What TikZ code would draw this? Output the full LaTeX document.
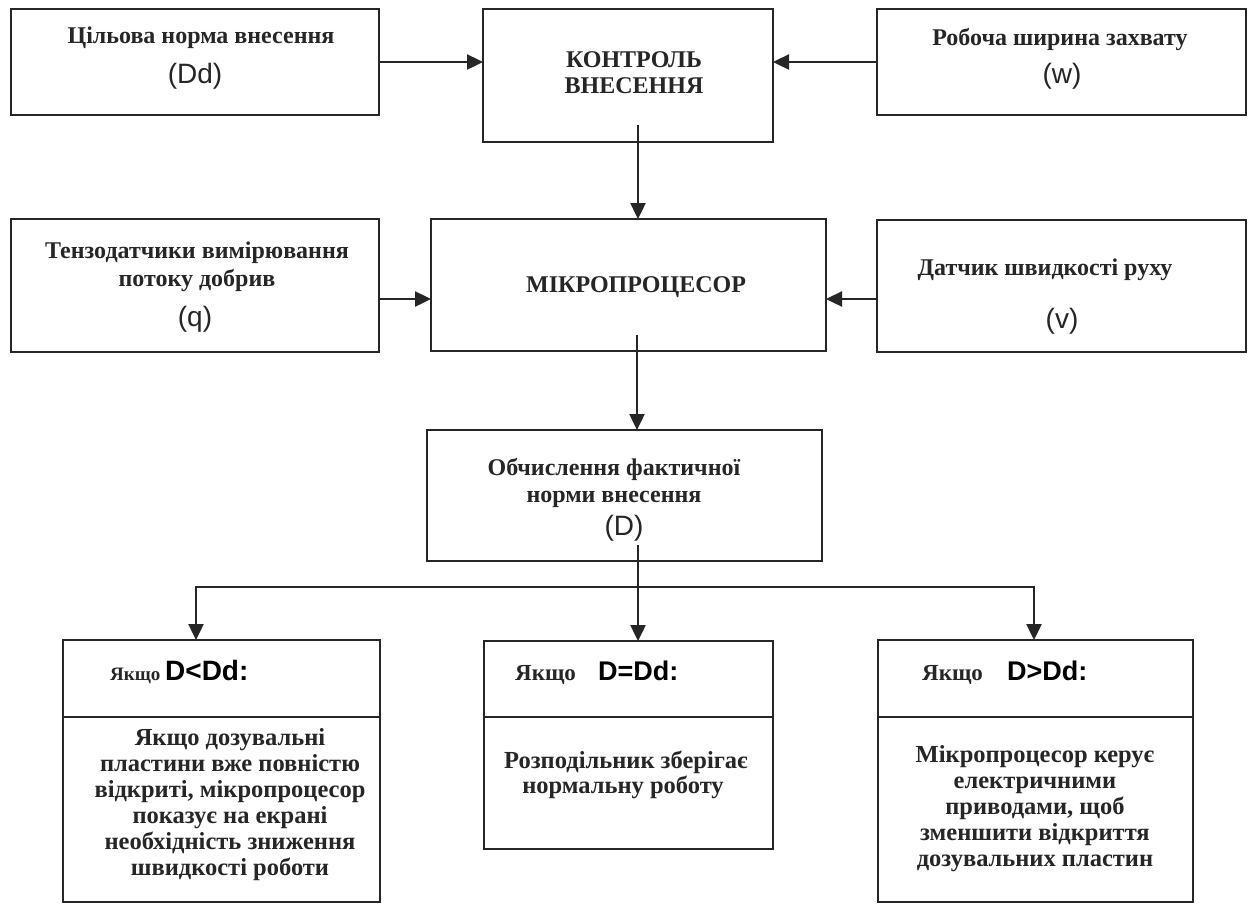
\documentclass[tikz,border=0pt]{standalone}
\usepackage{fontspec}
\setmainfont{Liberation Serif}
\newfontfamily\arialf{Liberation Sans}
\usetikzlibrary{arrows.meta}
\definecolor{ink}{HTML}{262626}
\begin{document}
\begin{tikzpicture}[x=1pt,y=-1pt,
  box/.style={draw=ink, line width=2.4pt, rectangle, inner sep=0pt, outer sep=0pt},
  lbl/.style={anchor=base, inner sep=0pt, text=ink, font=\bfseries\fontsize{24}{28}\selectfont},
  capsty/.style={anchor=base, inner sep=0pt, text=ink, font=\bfseries\fontsize{24}{28}\selectfont},
  body/.style={anchor=base, inner sep=0pt, text=ink, font=\bfseries\fontsize{24.5}{26}\selectfont},
  var/.style={anchor=base, inner sep=0pt, text=ink, font=\arialf\fontsize{28}{30}\selectfont},
  cond/.style={anchor=base west, inner sep=0pt, text=black, font=\arialf\bfseries\fontsize{27}{30}\selectfont},
  iff/.style={anchor=base west, inner sep=0pt, text=ink, font=\bfseries\fontsize{23}{26}\selectfont},
  arr/.style={draw=ink, line width=2.4pt, -{Triangle[length=16pt,width=15pt]}}]
\useasboundingbox (0,0) rectangle (1251,903);
\fill[white] (0,0) rectangle (1251,903);

% boxes
\node[box, minimum width=368pt, minimum height=106pt] (b1) at (195,62) {};
\node[box, minimum width=290pt, minimum height=133pt] (b2) at (628,75.5) {};
\node[box, minimum width=369pt, minimum height=106pt] (b3) at (1061.5,62) {};
\node[box, minimum width=368pt, minimum height=133pt] (b4) at (195,285.5) {};
\node[box, minimum width=395pt, minimum height=132pt] (b5) at (628.5,285) {};
\node[box, minimum width=369pt, minimum height=132pt] (b6) at (1061.5,286) {};
\node[box, minimum width=395pt, minimum height=131pt] (b7) at (624.5,495.5) {};
\node[box, minimum width=317pt, minimum height=77pt] (hL) at (221.5,678.5) {};
\node[box, minimum width=317pt, minimum height=185pt] (bL) at (221.5,809.5) {};
\node[box, minimum width=289pt, minimum height=76pt] (hM) at (628.5,679) {};
\node[box, minimum width=289pt, minimum height=132pt] (bM) at (628.5,783) {};
\node[box, minimum width=315pt, minimum height=77pt] (hR) at (1035.5,678.5) {};
\node[box, minimum width=315pt, minimum height=185pt] (bR) at (1035.5,809.5) {};

% texts
\node[lbl] (t1a) at (201,43) {Цільова норма внесення};
\node[var] (t1b) at (195,83) {(Dd)};
\node[capsty] (t2a) at (634,67) {КОНТРОЛЬ};
\node[capsty] (t2b) at (634,93) {ВНЕСЕННЯ};
\node[lbl] (t3a) at (1060,45) {Робоча ширина захвату};
\node[var] (t3b) at (1062,83) {(w)};
\node[lbl] (t4a) at (197,258) {Тензодатчики вимірювання};
\node[lbl] (t4b) at (197,286) {потоку добрив};
\node[var] (t4c) at (195,326) {(q)};
\node[capsty] (t5) at (636,292) {МІКРОПРОЦЕСОР};
\node[lbl] (t6a) at (1045,275) {Датчик швидкості руху};
\node[var] (t6b) at (1062,328) {(v)};
\node[lbl] (t7a) at (614,475) {Обчислення фактичної};
\node[lbl] (t7b) at (614,502) {норми внесення};
\node[var] (t7c) at (624,535) {(D)};

\node[iff, font=\bfseries\fontsize{19}{22}\selectfont] (iL) at (110,680) {Якщо};
\node[cond, font=\arialf\bfseries\fontsize{28}{32}\selectfont] (cL) at (165,680) {D<Dd:};
\node[iff] (iM) at (515,680) {Якщо};
\node[cond] (cM) at (598,680) {D=Dd:};
\node[iff] (iR) at (922,680) {Якщо};
\node[cond] (cR) at (1007,680) {D>Dd:};

\node[body] (l1) at (230,745) {Якщо дозувальні};
\node[body] (l2) at (230,771) {пластини вже повністю};
\node[body] (l3) at (230,797) {відкриті, мікропроцесор};
\node[body] (l4) at (230,823) {показує на екрані};
\node[body] (l5) at (230,849) {необхідність зниження};
\node[body] (l6) at (230,875) {швидкості роботи};

\node[body] (m1) at (626,768) {Розподільник зберігає};
\node[body] (m2) at (623,793) {нормальну роботу};

\node[body] (r1) at (1035,762) {Мікропроцесор керує};
\node[body] (r2) at (1035,788) {електричними};
\node[body] (r3) at (1035,814) {приводами, щоб};
\node[body] (r4) at (1035,840) {зменшити відкриття};
\node[body] (r5) at (1035,866) {дозувальних пластин};

% connectors
\draw[arr] (b1.east) -- (b1.east -| b2.west);
\draw[arr] (b3.west) -- (b3.west -| b2.east);
\coordinate (c2) at ([xshift=10pt,yshift=17pt]b2.south);
\draw[arr] (c2) -- (c2 |- b5.north);
\coordinate (c4) at ([yshift=-13.5pt]b4.east);
\draw[arr] (c4) -- (c4 -| b5.west);
\coordinate (c6) at ([yshift=-13pt]b6.west);
\draw[arr] (c6) -- (c6 -| b5.east);
\coordinate (c5) at ([xshift=8.5pt,yshift=16pt]b5.south);
\draw[arr] (c5) -- (c5 |- b7.north);
\coordinate (c7) at ([xshift=13.5pt,yshift=16pt]b7.south);
\draw[arr] (c7) -- (c7 |- hM.north);
\coordinate (j) at (638,587);
\coordinate (jl) at (196,587);
\coordinate (jr) at (1034,587);
\draw[arr] (j) -- (jl) -- (jl |- hL.north);
\draw[arr] (j) -- (jr) -- (jr |- hR.north);
\end{tikzpicture}
\end{document}
